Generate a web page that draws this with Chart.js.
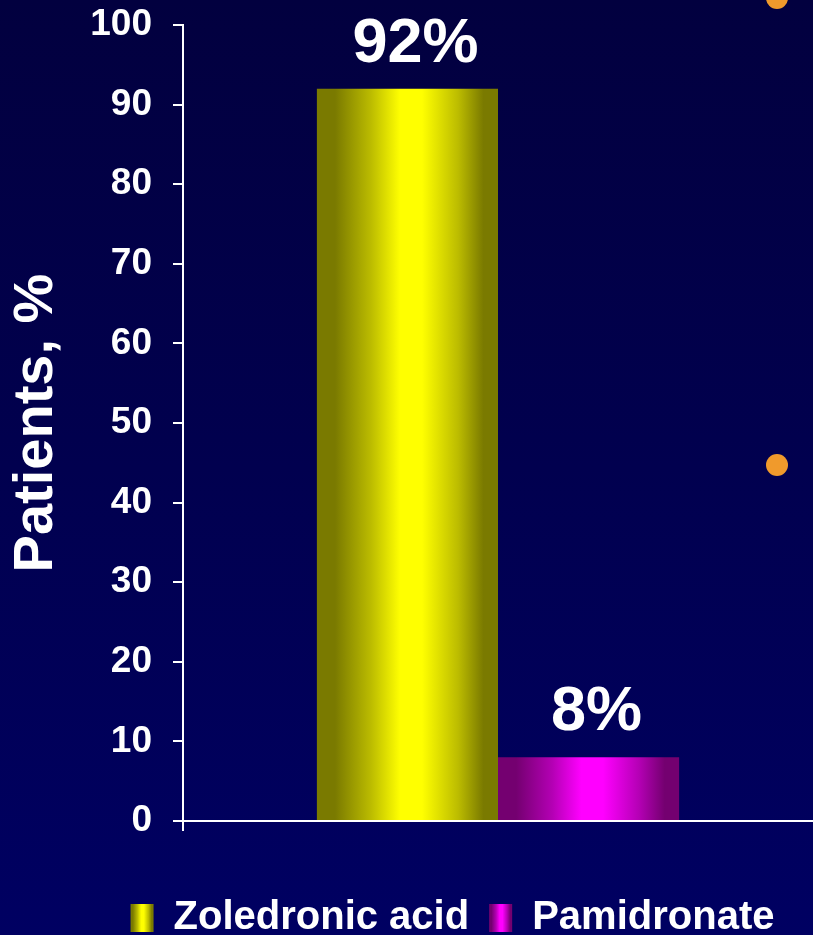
<!DOCTYPE html>
<html>
<head>
<meta charset="utf-8">
<title>Patients, %</title>
<script src="https://cdn.jsdelivr.net/npm/chart.js@4/dist/chart.umd.min.js"></script>
<style>
  html, body { margin: 0; padding: 0; width: 813px; height: 935px; overflow: hidden;
    background: linear-gradient(180deg, #02003f 0%, #01004f 50%, #000062 100%); }
  #wrap { position: relative; width: 813px; height: 935px; }
</style>
</head>
<body>
<div id="wrap"><canvas id="chart"></canvas></div>
<script>
// ---- data ----
const categories = [''];
const seriesNames = ['Zoledronic acid', 'Pamidronate'];
const zoledronicValues = [92];
const pamidronateValues = [8];
const yTickValues = [0, 10, 20, 30, 40, 50, 60, 70, 80, 90, 100];

// ---- styling ----
const FONT = '"Liberation Sans", Arial, Helvetica, sans-serif';
const CAT_PCT = 0.575;
const BAR_PCT = 1;
const YELLOW = { dark: '#7a7a00', mid: '#bcbc00', bright: '#ffff00' };
const MAGENTA = { dark: '#740070', mid: '#b400b4', bright: '#ff00ff' };

function shade(ctx2d, left, right, c) {
  const g = ctx2d.createLinearGradient(left, 0, right, 0);
  g.addColorStop(0, c.dark);
  g.addColorStop(0.1, c.dark);
  g.addColorStop(0.3, c.mid);
  g.addColorStop(0.46, c.bright);
  g.addColorStop(0.58, c.bright);
  g.addColorStop(0.78, c.mid);
  g.addColorStop(0.92, c.dark);
  g.addColorStop(1, c.dark);
  return g;
}

// horizontal cylinder-like shading across each bar
function barFill(colors) {
  return (ctx) => {
    const chart = ctx.chart;
    const xs = chart.scales && chart.scales.x;
    if (ctx.type !== 'data' || !chart.chartArea || !xs) return colors.bright;
    const nSets = chart.data.datasets.length;
    const slot = xs.width / chart.data.labels.length;
    const total = slot * CAT_PCT;
    const center = xs.getPixelForValue(ctx.dataIndex);
    const left = center - total / 2 + ctx.datasetIndex * total / nSets;
    const right = left + (total / nSets) * BAR_PCT;
    if (!isFinite(left) || !isFinite(right)) return colors.bright;
    return shade(chart.ctx, left, right, colors);
  };
}

const seriesColors = [YELLOW, MAGENTA];

// centre the legend row under the plot
const legendShift = {
  id: 'legendShift',
  afterLayout(chart) {
    const lg = chart.legend;
    if (!lg) return;
    lg.left += 46;
    lg.right += 46;
  }
};

// shaded legend swatches
const legendSwatches = {
  id: 'legendSwatches',
  beforeDraw(chart) {
    const lg = chart.legend;
    if (!lg || !lg.legendItems) return;
    const bw = lg.options.labels.boxWidth;
    lg.legendItems.forEach((item, i) => {
      const hb = lg.legendHitBoxes[i];
      if (!hb) return;
      item.fillStyle = shade(chart.ctx, hb.left, hb.left + bw, seriesColors[item.datasetIndex]);
      item.lineWidth = 0;
    });
  }
};

// value labels above the bars
const valueLabels = {
  id: 'valueLabels',
  afterDatasetsDraw(chart) {
    const c = chart.ctx;
    c.save();
    c.fillStyle = '#ffffff';
    c.font = 'bold 63px ' + FONT;
    c.textAlign = 'center';
    c.textBaseline = 'alphabetic';
    chart.data.datasets.forEach((ds, di) => {
      const meta = chart.getDatasetMeta(di);
      meta.data.forEach((el, i) => {
        c.fillText(ds.data[i] + '%', el.x + 8, el.y - 27);
      });
    });
    c.restore();
  }
};

// orange slide bullets at the right edge
const slideDots = {
  id: 'slideDots',
  afterDraw(chart) {
    const c = chart.ctx;
    const ca = chart.chartArea;
    const x = ca.right - 36;
    c.save();
    c.fillStyle = '#f09a2c';
    [ -2, 465 ].forEach((y) => {
      c.beginPath();
      c.arc(x, y, 11, 0, Math.PI * 2);
      c.fill();
    });
    c.restore();
  }
};

new Chart(document.getElementById('chart'), {
  type: 'bar',
  data: {
    labels: categories,
    datasets: [
      { label: seriesNames[0], data: zoledronicValues, backgroundColor: barFill(YELLOW) },
      { label: seriesNames[1], data: pamidronateValues, backgroundColor: barFill(MAGENTA) }
    ]
  },
  options: {
    responsive: true,
    maintainAspectRatio: false,
    animation: false,
    categoryPercentage: CAT_PCT,
    barPercentage: BAR_PCT,
    layout: { padding: { top: 25, left: 0, right: 0, bottom: -13 } },
    plugins: {
      tooltip: { enabled: false },
      legend: {
        position: 'bottom',
        labels: {
          color: '#ffffff',
          font: { family: FONT, size: 40, weight: 'bold' },
          boxWidth: 23,
          boxHeight: 28,
          padding: 20
        }
      }
    },
    scales: {
      x: {
        ticks: { display: false },
        grid: {
          display: true,
          drawOnChartArea: false,
          color: (ctx) => (ctx.index === 0 ? '#ffffff' : 'rgba(0,0,0,0)'),
          lineWidth: 2,
          tickLength: 10
        },
        border: { display: true, color: '#ffffff', width: 2 },
        afterFit(scale) { scale.height = 57; }
      },
      y: {
        min: 0,
        max: 100,
        afterBuildTicks(scale) { scale.ticks = yTickValues.map(v => ({ value: v })); },
        ticks: {
          color: '#ffffff',
          font: { family: FONT, size: 37, weight: 'bold' },
          padding: 21
        },
        grid: { display: true, drawOnChartArea: false, color: '#ffffff', lineWidth: 2, tickLength: 10 },
        border: { display: true, color: '#ffffff', width: 2 },
        title: {
          display: true,
          text: 'Patients, %',
          color: '#ffffff',
          font: { family: FONT, size: 56, weight: 'bold' },
          padding: { top: 3, bottom: 0 }
        },
        afterFit(scale) {
          scale.width = 183;
          scale.paddingTop = 0;
          scale.paddingBottom = 0;
        }
      }
    }
  },
  plugins: [legendShift, legendSwatches, valueLabels, slideDots]
});
</script>
</body>
</html>
